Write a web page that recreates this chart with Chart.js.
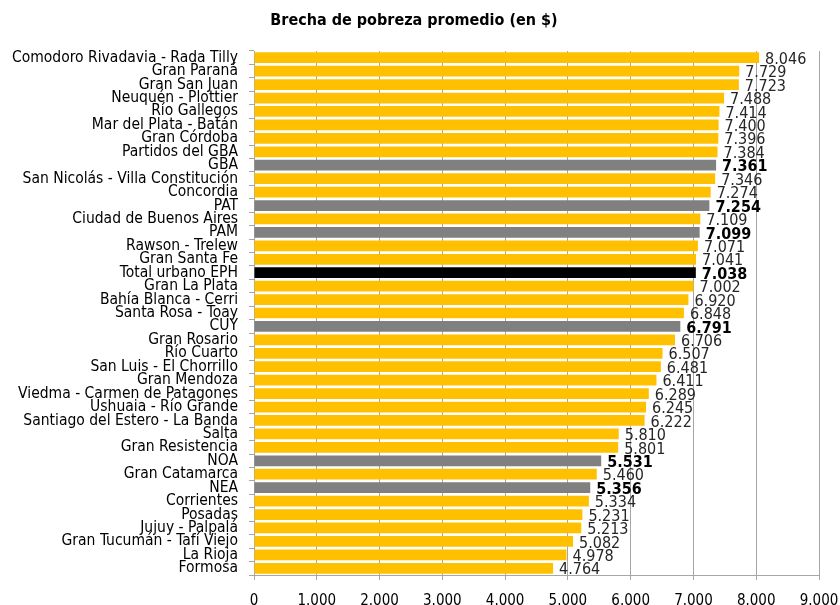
<!DOCTYPE html>
<html><head><meta charset="utf-8">
<script src="https://cdn.jsdelivr.net/npm/chart.js@4"></script>
<style>html,body{margin:0;padding:0;background:#fff}#wrap{width:840px;height:605px;position:relative}</style>
</head><body><div id="wrap"><canvas id="c" width="840" height="605"></canvas></div>
<script>
const categories = ["Comodoro Rivadavia - Rada Tilly","Gran Paraná","Gran San Juan","Neuquén - Plottier","Río Gallegos","Mar del Plata - Batán","Gran Córdoba","Partidos del GBA","GBA","San Nicolás - Villa Constitución","Concordia","PAT","Ciudad de Buenos Aires","PAM","Rawson - Trelew","Gran Santa Fe","Total urbano EPH","Gran La Plata","Bahía Blanca - Cerri","Santa Rosa - Toay","CUY","Gran Rosario","Río Cuarto","San Luis - El Chorrillo","Gran Mendoza","Viedma - Carmen de Patagones","Ushuaia - Río Grande","Santiago del Estero - La Banda","Salta","Gran Resistencia","NOA","Gran Catamarca","NEA","Corrientes","Posadas","Jujuy - Palpalá","Gran Tucumán - Tafí Viejo","La Rioja","Formosa"];
const values = [8046,7729,7723,7488,7414,7400,7396,7384,7361,7346,7274,7254,7109,7099,7071,7041,7038,7002,6920,6848,6791,6706,6507,6481,6411,6289,6245,6222,5810,5801,5531,5460,5356,5334,5231,5213,5082,4978,4764];
const regions = ["GBA","PAT","PAM","CUY","NOA","NEA"];
const totalLabel = "Total urbano EPH";
const xTicks = [0,1000,2000,3000,4000,5000,6000,7000,8000,9000];
const title = "Brecha de pobreza promedio (en $)";

const FONT = "'Liberation Sans Narrow', 'DejaVu Sans Condensed', sans-serif";
const fmt = v => String(v).replace(/\B(?=(\d{3})+(?!\d))/g, ".");
const colors = categories.map(c => c === totalLabel ? "#000000" : (regions.includes(c) ? "#808080" : "#FFC000"));
const isBold = c => c === totalLabel || regions.includes(c);

const labelPlugin = {
  id: "valueLabels",
  afterDatasetsDraw(chart) {
    const ctx = chart.ctx;
    const meta = chart.getDatasetMeta(0);
    ctx.save();
    ctx.textBaseline = "middle";
    ctx.textAlign = "left";
    meta.data.forEach((bar, i) => {
      const c = categories[i];
      ctx.font = (isBold(c) ? "bold " : "") + "16px " + FONT;
      ctx.fillStyle = isBold(c) ? "#000000" : "#262626";
      ctx.fillText(fmt(values[i]), bar.x + 6, bar.y + 2);
    });
    ctx.restore();
  }
};

new Chart(document.getElementById("c"), {
  type: "bar",
  data: { labels: categories, datasets: [{ data: values, backgroundColor: colors, barPercentage: 0.8, categoryPercentage: 1.0 }] },
  options: {
    indexAxis: "y",
    responsive: false,
    animation: false,
    devicePixelRatio: 1,
    layout: { padding: { left: 9, right: 21, top: 0, bottom: 0 } },
    plugins: {
      legend: { display: false },
      tooltip: { enabled: false },
      title: { display: true, text: title, color: "#000", font: { family: FONT, size: 16, weight: "bold", lineHeight: 1.2 }, padding: { top: 11, bottom: 20.8 } }
    },
    scales: {
      x: {
        min: 0, max: 9000,
        afterBuildTicks: s => { s.ticks = xTicks.map(v => ({ value: v })); },
        afterFit: s => { s.height = 30; s.paddingRight = 0; s.paddingLeft = 0; },
        ticks: { callback: v => fmt(v), color: "#000", font: { family: FONT, size: 15 }, padding: 12, maxRotation: 0 },
        grid: { color: "#a6a6a6", drawTicks: true, tickLength: 5, lineWidth: 1 },
        border: { color: "#a6a6a6" }
      },
      y: {
        afterFit: s => { s.width = 245; },
        ticks: { color: "#000", font: { family: FONT, size: 15.5 }, padding: 11, autoSkip: false },
        grid: { drawOnChartArea: false, drawTicks: true, tickLength: 5, offset: true, color: "#a6a6a6" },
        border: { color: "#a6a6a6" }
      }
    }
  },
  plugins: [labelPlugin]
});
</script></body></html>
